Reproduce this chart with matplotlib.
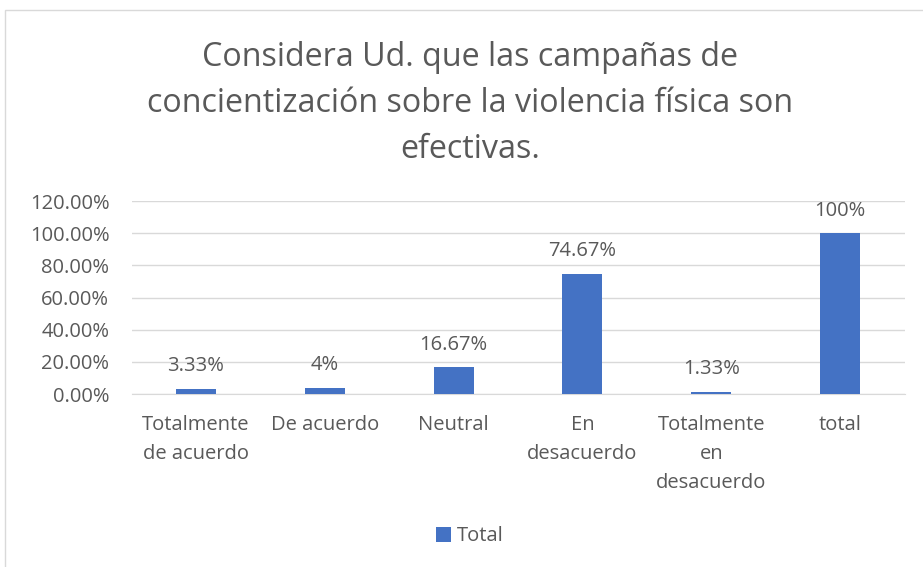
import numpy as np
import matplotlib.pyplot as plt
from matplotlib.patches import Rectangle

plt.rcParams['font.family'] = ['Open Sans', 'DejaVu Sans']

# data
categories = ["Totalmente\nde acuerdo", "De acuerdo", "Neutral",
              "En\ndesacuerdo", "Totalmente\nen\ndesacuerdo", "total"]
values = [0.0333, 0.04, 0.1667, 0.7467, 0.0133, 1.0]
value_labels = ["3.33%", "4%", "16.67%", "74.67%", "1.33%", "100%"]
yticks = [0.0, 0.2, 0.4, 0.6, 0.8, 1.0, 1.2]

title = ("Considera Ud. que las campañas de\n"
         "concientización sobre la violencia física son\n"
         "efectivas.")

text_col = '#595959'
bar_col = '#4472C4'
grid_col = '#d9d9d9'

fig = plt.figure(figsize=(9.23, 5.67), dpi=100)
ax = fig.add_axes([0.1425, 0.3051, 0.8375, 0.3404])

x = np.arange(len(categories))
ax.bar(x, values, width=0.31, color=bar_col, zorder=3, label='Total')

for xi, v, lab in zip(x, values, value_labels):
    ax.annotate(lab, (xi, v), xytext=(0, 9), textcoords='offset points',
                ha='center', va='bottom', fontsize=14.5, color=text_col)

ax.set_xlim(-0.5, len(categories) - 0.5)
ax.set_ylim(0, 1.2)
ax.set_yticks(yticks)
ax.set_yticklabels(["%.2f%%" % (t * 100) for t in yticks])
ax.set_xticks(x)
ax.set_xticklabels(categories, linespacing=1.62)
ax.tick_params(axis='both', length=0, labelsize=14.5, labelcolor=text_col)
ax.tick_params(axis='y', pad=16)
ax.tick_params(axis='x', pad=15)
ax.yaxis.grid(True, color=grid_col, linewidth=1, zorder=0)
for s in ['top', 'right', 'left']:
    ax.spines[s].set_visible(False)
ax.spines['bottom'].set_color(grid_col)

fig.text(0.509, 0.817, title, ha='center', va='center', fontsize=23.2,
         color=text_col, linespacing=1.52)

fig.legend(loc='center', bbox_to_anchor=(0.509, 0.054), frameon=False,
           fontsize=14.5, labelcolor=text_col, handlelength=0.75,
           handleheight=0.75, handletextpad=0.3)

# chart border (runs off the right and bottom of the image)
fig.patches.append(Rectangle((5 / 923, -0.1), 1.2, 1 - 10 / 567 + 0.1,
                             transform=fig.transFigure, fill=False,
                             edgecolor=grid_col, linewidth=1))

fig.savefig('out.png', dpi=100)
